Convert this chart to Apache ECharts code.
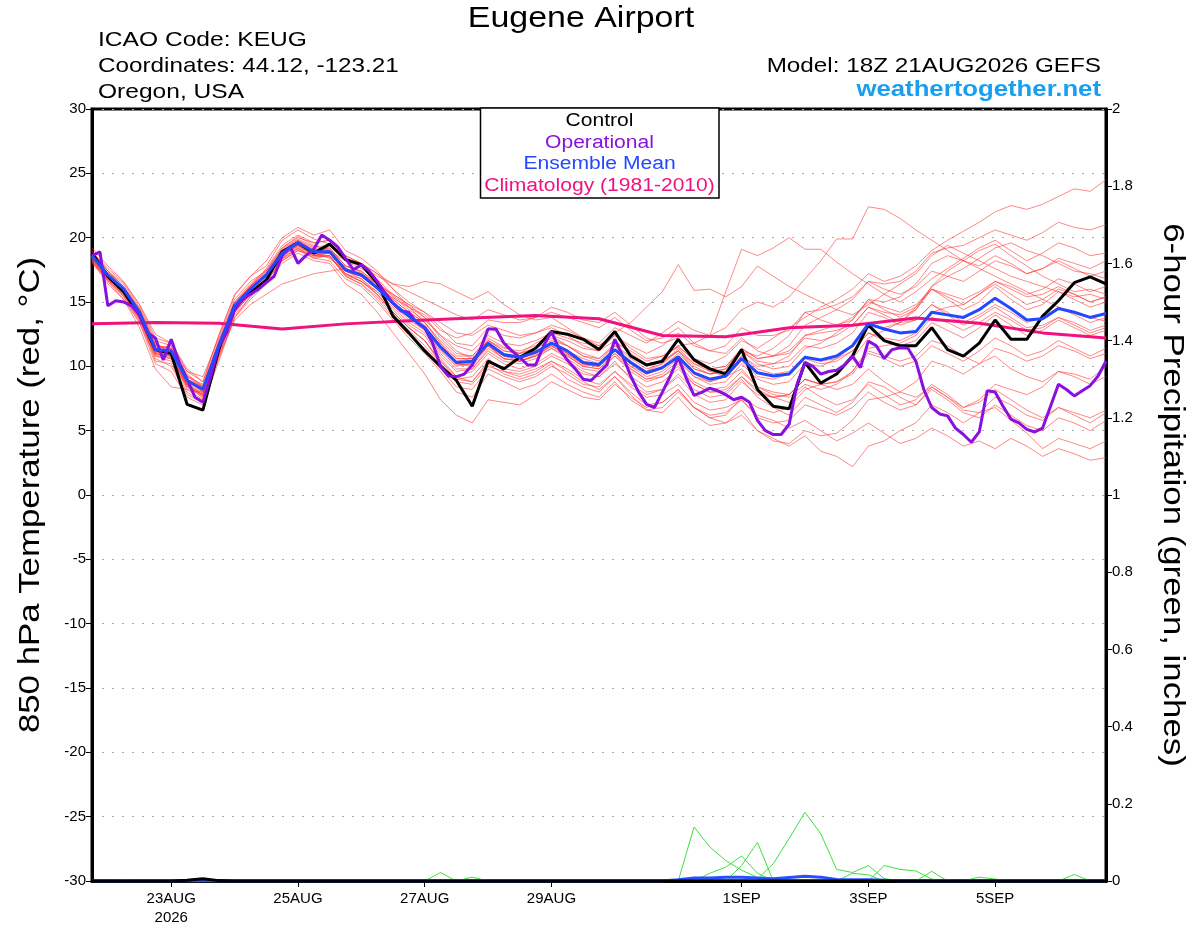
<!DOCTYPE html>
<html>
<head>
<meta charset="utf-8">
<script src="https://cdn.jsdelivr.net/npm/echarts@6.0.0/dist/echarts.min.js"></script>
<style>html,body{margin:0;padding:0;background:#fff;}#c{width:1200px;height:927px;}</style>
</head>
<body>
<div id="c"></div>
<script>
// ---- x axis (6-hourly steps from 18Z 21AUG2026) ----
const tickSteps = [5, 13, 21, 29, 41, 49, 57];
const tickLabels = ['23AUG\n2026', '25AUG', '27AUG', '29AUG', '1SEP', '3SEP', '5SEP'];

// ---- 850 hPa temperature (°C), 6-hourly ----
const control = [18.8,17.0,15.8,14.0,11.3,11.0,7.05,6.6,
11.3,14.7,15.7,16.7,18.9,19.6,18.8,19.5,
18.3,17.9,16.5,13.9,12.6,11.2,10.0,8.9,
6.9,10.4,9.8,10.7,11.4,12.7,12.5,12.1,
11.3,12.7,10.8,10.1,10.4,12.1,10.5,9.8,
9.4,11.3,8.2,6.9,6.7,10.3,8.7,9.4,
10.8,13.2,12.0,11.6,11.6,13.0,11.3,10.8,
11.8,13.6,12.1,12.1,13.9,15.1,16.5,16.95,
16.4];
const ensMean = [18.6,17.1,16.0,14.2,11.3,11.2,8.9,8.2,
11.6,14.7,16.0,17.1,18.8,19.6,18.9,18.9,
17.5,17.1,16.1,14.9,13.9,13.0,11.5,10.3,
10.4,11.8,10.9,10.7,11.1,11.8,11.2,10.3,
10.15,11.3,10.3,9.5,9.9,10.75,9.5,9.0,
9.25,10.6,9.5,9.25,9.4,10.7,10.5,10.8,
11.6,13.3,12.9,12.6,12.7,14.2,14.0,13.8,
14.4,15.3,14.5,13.6,13.7,14.5,14.2,13.8,
14.1];
// operational: 3-hourly
const operational = [18.6,18.9,14.7,15.1,15.0,14.7,14.0,12.6,
12.2,10.5,12.1,10.3,9.0,7.6,7.2,9.25,
11.5,12.6,14.4,15.2,15.6,16.0,16.5,17.0,
18.6,19.3,18.0,18.6,19.1,20.2,19.8,19.3,
18.4,17.5,17.9,17.4,16.6,15.7,14.9,14.3,
14.2,13.4,13.0,11.8,10.0,9.25,9.2,9.4,
10.1,11.3,12.9,12.9,11.8,11.2,10.7,10.1,
10.1,11.6,12.7,11.3,10.5,9.8,9.0,8.9,
9.5,10.1,12.1,10.8,9.25,8.0,7.05,6.8,
8.0,9.25,10.7,9.1,7.75,8.0,8.3,8.1,
7.8,7.4,7.6,7.2,5.8,5.0,4.7,4.7,
5.5,8.6,10.3,10.0,9.4,9.6,9.7,10.1,
10.8,9.9,11.96,11.6,10.6,11.3,11.45,11.4,
10.4,8.2,6.8,6.3,6.15,5.2,4.7,4.1,
4.9,8.1,8.0,6.9,5.9,5.6,5.1,4.9,
5.2,6.9,8.6,8.2,7.7,8.1,8.5,9.25,
10.4];
// climatology: daily
const climatology = [13.3,13.4,13.35,12.9,13.3,13.55,13.75,13.95,13.7,12.4,12.3,13.0,13.2,13.75,13.35,12.6,12.2];

// ---- ensemble members (°C), 6-hourly ----
const m01 = [18.4,17.3,16.2,14.5,11.8,11.0,9.2,8.6, 12.0,15.0,16.4,17.5,19.2,20.1,19.4,19.0, 18.2,17.6,16.8,15.5,14.6,13.8,12.2,11.0, 10.8,12.2,11.5,11.0,11.8,12.4,11.6,11.0, 10.6,11.8,11.2,10.4,10.8,11.5,10.6,10.2, 10.8,12.0,11.4,12.2,13.0,13.8,14.6,15.2, 16.0,17.2,16.6,17.0,17.8,19.0,19.8,20.5, 21.2,22.0,22.5,22.2,22.6,23.2,23.8,23.6, 24.5];
const m02 = [18.9,17.6,16.5,14.8,12.5,11.8,9.8,8.8, 12.4,15.5,17.0,17.8,19.8,20.6,19.9,19.5, 18.6,18.0,17.2,16.0,15.0,14.2,13.0,11.8, 11.6,13.0,12.4,12.2,12.6,13.2,12.8,12.2, 11.8,13.0,12.4,11.8,12.6,13.5,12.8,12.4, 13.0,14.4,15.0,14.6,15.4,16.8,18.2,19.9, 19.9,22.4,22.2,21.5,20.6,19.8,19.0,18.2, 17.6,17.0,16.4,15.8,15.2,14.6,14.2,13.8, 13.5];
const m03 = [18.2,16.6,15.4,13.6,10.8,10.4,8.4,7.8, 11.0,14.2,15.6,16.8,18.4,19.2,18.4,18.6, 17.0,16.4,15.4,14.0,12.8,11.6,10.2,9.0, 9.2,10.6,9.6,9.4,9.8,10.4,9.8,9.0, 8.6,9.6,8.4,7.6,7.8,8.6,7.2,6.6, 6.8,7.4,6.2,5.8,5.2,5.8,5.0,4.2, 4.8,5.6,4.8,4.0,4.4,5.2,4.6,3.8, 4.2,3.6,4.4,3.8,3.0,3.6,3.2,2.7, 2.9];
const m04 = [18.5,16.9,15.6,13.8,11.0,10.6,8.6,7.5, 11.2,14.4,15.8,16.9,18.6,19.4,18.6,18.5, 17.2,16.6,15.8,14.4,13.2,12.4,10.6,9.2, 8.8,10.2,9.4,9.0,9.4,10.2,9.0,8.4, 8.0,9.2,7.8,6.6,6.4,7.6,6.2,5.4, 5.6,6.6,5.0,4.4,3.8,4.6,3.4,3.0, 2.2,3.8,4.2,5.0,5.6,7.0,6.4,5.6, 6.4,7.6,7.0,6.2,5.8,6.8,6.4,6.0, 6.6];
const m05 = [19.0,17.4,16.2,14.4,11.6,11.4,9.4,8.4, 11.8,15.0,16.2,17.6,19.4,20.2,19.6,19.8, 18.4,17.8,16.6,15.4,14.4,13.6,12.4,11.6, 11.2,12.4,11.8,11.6,12.0,12.6,12.2,11.8, 11.6,12.6,13.4,14.6,15.8,17.9,15.9,16.0, 15.4,16.2,17.8,17.0,16.2,15.6,15.0,14.4, 14.0,14.8,15.6,16.4,17.2,18.6,19.4,18.8, 18.2,17.6,17.0,16.6,16.2,15.8,15.4,15.6, 15.2];
const m06 = [18.3,16.8,15.6,13.9,10.4,10.2,8.0,7.2, 10.8,14.0,15.4,16.6,18.2,19.0,18.4,18.2, 16.8,16.2,15.0,13.6,12.2,11.0,9.6,8.0, 7.6,9.4,8.8,8.2,8.6,9.4,8.6,8.0, 7.6,8.8,7.4,6.6,6.8,8.0,6.8,6.0, 6.2,7.6,6.8,6.4,6.8,8.2,8.6,9.4, 10.6,12.2,12.8,13.4,14.6,16.2,17.4,18.2, 19.0,19.5,18.6,17.8,17.0,16.4,15.8,16.0, 15.6];
const m07 = [18.7,17.2,16.0,14.3,11.4,11.6,9.0,8.0, 11.6,14.8,16.2,17.2,19.0,19.8,19.0,19.2, 17.8,17.4,16.4,15.2,14.2,13.4,12.0,10.8, 10.8,12.0,11.2,11.0,11.4,12.0,11.6,10.8, 10.6,11.6,10.8,10.0,10.4,11.2,10.2,9.8, 10.0,11.4,10.6,10.8,11.2,12.4,12.8,13.2, 13.8,15.0,14.6,14.2,14.8,16.0,15.4,14.8, 15.6,16.4,15.6,14.8,15.2,16.0,15.6,15.0, 15.4];
const m08 = [18.5,16.9,15.8,14.0,11.2,10.8,8.6,7.8, 11.4,14.4,15.8,16.8,18.6,19.4,18.6,18.6, 17.2,16.8,15.8,14.6,13.4,12.6,10.8,9.6, 9.8,11.2,10.4,10.2,10.6,11.4,10.6,9.8, 9.6,10.8,9.6,8.8,9.2,10.2,8.8,8.2, 8.4,9.6,8.4,8.0,7.8,9.0,8.6,8.8, 9.4,11.0,10.6,10.0,10.4,11.6,11.0,10.4, 11.2,12.2,11.6,10.8,11.2,12.0,11.4,10.8, 11.4];
const m09 = [18.8,17.4,16.4,14.6,12.0,11.6,9.6,9.2, 12.2,15.2,16.6,17.4,19.0,19.6,18.8,18.4, 17.4,17.0,16.0,14.8,13.8,13.0,11.6,10.6, 10.6,11.6,10.6,10.4,10.8,11.4,10.8,10.0, 9.8,10.8,9.8,9.0,9.4,10.4,9.2,8.6, 8.8,10.2,9.0,8.6,8.8,10.2,10.0,10.6, 11.6,13.2,13.0,13.4,14.4,16.2,17.0,17.6, 18.4,19.2,19.6,19.0,18.6,18.0,17.4,17.2, 16.8];
const m10 = [18.1,16.4,15.2,13.4,10.6,10.0,7.8,7.2, 10.6,13.8,15.4,16.6,18.2,19.0,18.6,18.8, 17.2,16.6,15.6,14.2,13.0,12.0,10.4,9.0, 8.8,10.4,9.8,9.6,10.0,10.8,10.2,9.4, 9.2,10.2,9.2,8.4,8.8,9.8,8.6,8.0, 8.0,9.2,8.2,7.6,7.2,8.4,7.6,7.0, 7.4,8.6,7.8,7.0,7.4,8.6,7.8,6.8, 7.2,8.2,7.4,6.6,6.0,6.8,6.2,5.6, 6.4];
const m11 = [18.0,16.8,15.8,14.0,11.4,10.8,8.4,7.6, 10.8,13.6,14.8,15.6,16.4,16.8,17.2,17.4, 17.6,17.0,16.2,15.6,14.8,13.8,12.4,11.2, 10.6,11.8,11.0,10.8,11.2,11.8,11.2,10.6, 10.2,11.2,10.2,9.4,9.8,10.8,9.4,8.8, 9.2,10.4,9.2,9.0,9.4,10.6,10.2,10.4, 11.2,12.6,12.0,11.6,12.0,13.4,12.8,12.2, 13.0,14.0,13.2,12.4,12.8,13.6,13.0,12.4, 12.8];
const m12 = [19.2,17.8,16.6,14.8,12.2,11.8,9.6,8.8, 12.4,15.6,17.0,18.2,20.0,20.8,20.2,20.6, 19.0,18.4,17.4,16.0,14.6,13.4,11.8,10.2, 10.0,11.6,10.8,10.4,10.8,11.6,11.0,10.2, 10.0,11.2,10.0,9.4,10.0,11.0,9.8,9.4, 9.8,11.2,10.4,10.2,10.4,11.6,11.4,11.8, 12.6,14.2,13.8,13.2,13.6,14.8,14.2,13.4, 14.0,14.8,14.2,13.4,13.8,14.6,14.0,13.4, 13.8];
const m13 = [18.4,16.8,15.4,13.4,10.2,9.6,7.6,7.0, 10.4,13.8,15.2,16.4,18.0,18.8,18.2,18.0, 16.4,15.6,14.2,12.6,11.0,9.4,7.4,6.2, 5.6,7.4,7.2,7.0,7.8,8.8,8.2,7.6, 7.4,8.6,7.6,6.8,7.2,8.2,6.8,6.0, 5.6,6.2,5.0,4.2,4.0,5.0,4.6,4.8, 5.8,7.4,7.6,8.0,8.8,10.4,10.0,9.4, 10.2,11.4,11.0,10.4,10.8,11.6,11.2,10.6, 11.0];
const m14 = [18.6,17.0,15.8,14.2,11.4,11.4,9.0,8.4, 11.8,14.8,16.0,17.0,18.8,19.6,19.0,19.0, 17.6,17.2,16.2,15.0,14.0,13.2,11.6,10.4, 10.6,12.0,11.4,11.2,11.6,12.4,12.0,11.4, 11.2,12.4,11.6,11.0,11.6,12.6,11.6,11.2, 11.6,13.0,12.4,12.4,12.8,14.2,14.4,14.8, 15.4,16.6,16.0,15.6,16.2,17.4,17.0,16.6, 17.4,18.2,17.8,17.2,17.6,18.2,17.6,17.0, 17.4];
const m15 = [18.2,16.6,15.2,13.0,9.8,8.4,8.2,8.0, 11.4,14.6,16.0,17.2,18.8,19.6,18.8,18.8, 17.6,17.2,16.4,15.6,14.8,14.2,13.4,12.6, 12.4,13.2,12.8,12.4,12.6,13.0,12.4,11.6, 11.2,12.0,11.0,10.2,10.4,11.2,10.0,9.4, 9.6,10.8,9.8,9.4,9.6,10.8,10.4,10.6, 11.2,12.6,12.2,12.0,12.6,14.2,14.6,14.8, 15.6,16.6,16.2,15.6,16.0,16.8,16.4,15.8, 16.2];
const m16 = [18.7,17.0,15.6,13.6,10.8,10.6,8.2,7.4, 11.0,14.2,15.6,16.8,18.4,19.2,18.6,18.8, 17.4,16.8,15.6,14.2,13.0,12.0,10.4,9.2, 9.6,11.0,10.2,9.8,10.2,11.0,10.4,9.6, 9.2,10.4,9.0,8.0,8.2,9.2,7.8,7.2, 7.4,8.8,7.8,7.6,7.8,9.0,8.6,8.8, 9.6,11.2,10.8,10.4,10.8,12.0,11.6,10.8, 10.2,10.8,9.8,9.2,8.8,9.6,9.2,8.6, 9.2];
const m17 = [18.9,17.4,16.2,14.4,11.6,11.4,9.2,8.4, 11.8,14.8,16.2,17.4,19.2,20.0,19.6,19.8, 18.6,18.0,17.2,16.4,15.8,15.2,14.6,14.0, 13.6,14.4,14.0,13.6,13.8,14.2,13.8,13.4, 13.0,13.8,12.8,12.0,12.2,13.0,11.8,11.2, 11.0,12.2,11.2,10.8,11.0,12.2,12.0,12.4, 13.2,14.6,14.2,14.0,14.6,16.0,15.6,15.2, 15.8,16.6,16.0,15.4,15.6,16.2,15.6,15.0, 15.4];
const m18 = [18.4,16.9,15.9,14.1,11.2,11.0,8.8,8.0, 11.4,14.6,16.0,17.0,18.6,19.4,18.8,18.8, 17.4,17.0,16.0,14.8,13.8,12.8,11.2,10.0, 10.2,11.6,10.8,10.6,11.0,11.8,11.0,10.2, 10.0,11.0,9.8,9.0,9.2,10.0,8.6,8.0, 8.2,9.2,8.0,7.6,7.8,9.0,8.6,8.2, 8.6,9.8,8.8,8.0,7.6,8.4,7.6,6.6, 6.4,6.8,5.8,4.8,3.6,4.4,4.0,3.6, 4.2];
const m19 = [18.6,17.1,16.0,14.2,11.2,11.2,9.0,8.4, 11.8,14.8,16.2,17.2,19.0,19.8,19.2,19.2, 17.8,17.4,16.4,15.2,14.2,13.4,11.8,10.6, 10.6,12.0,11.2,11.0,11.4,12.2,11.6,10.8, 10.4,11.6,10.6,9.8,10.2,11.4,10.2,9.6, 9.8,11.4,10.6,10.8,11.6,13.2,13.8,14.4, 15.2,16.6,16.4,16.6,17.4,18.8,19.2,19.4, 20.0,20.6,20.2,19.8,20.4,21.2,20.8,20.6, 21.0];
const m20 = [18.3,16.8,15.8,14.0,11.0,10.8,8.6,7.8, 11.2,14.4,15.8,16.8,18.6,19.4,18.8,18.8, 17.4,17.0,16.0,14.8,13.6,12.8,11.0,9.8, 9.8,11.4,10.6,10.4,10.8,11.6,10.8,10.0, 9.8,11.0,10.0,9.2,9.6,10.6,9.2,8.8, 9.2,10.8,10.0,10.2,10.8,12.4,12.6,12.8, 13.2,14.6,14.0,13.4,13.6,14.8,14.0,13.2, 13.8,14.6,13.8,13.0,13.2,13.8,13.2,12.6, 13.0];
const m21 = [18.5,17.0,15.9,14.1,11.1,11.0,8.7,7.9, 11.5,14.6,15.9,17.0,18.7,19.5,18.9,19.0, 17.6,17.2,16.2,15.0,13.9,12.9,11.3,10.1, 10.2,11.6,10.6,10.4,10.9,11.6,10.9,10.1, 10.0,11.2,10.2,9.6,10.6,11.6,11.8,12.4, 15.8,19.1,18.6,19.2,20.0,19.1,19.1,18.1, 17.2,16.4,15.6,15.0,15.8,16.8,17.6,18.4, 19.2,19.8,19.0,18.2,18.8,19.6,19.2,18.6, 18.8];
const m22 = [18.8,17.2,16.0,14.3,11.7,11.3,9.3,8.5, 11.9,14.9,16.3,17.3,19.1,19.9,19.3,19.4, 18.2,17.8,17.0,16.4,16.2,16.6,16.4,15.8, 15.2,15.8,14.8,14.0,13.6,13.8,13.0,12.2, 11.6,12.4,11.4,10.6,10.8,11.6,10.4,9.8, 10.0,11.2,10.2,9.8,10.0,11.4,11.8,12.6, 13.6,15.2,15.0,15.4,16.4,18.0,18.6,18.2, 17.8,18.6,18.0,17.2,17.6,18.4,18.0,17.6, 18.2];
const m23 = [18.3,16.7,15.5,13.7,10.9,10.7,8.5,7.7, 11.1,14.3,15.7,16.7,18.5,19.3,18.7,18.6, 17.0,16.4,15.2,13.8,12.4,11.4,9.8,8.4, 8.2,9.8,9.2,8.8,9.2,10.0,9.4,8.6, 8.4,9.6,8.6,7.8,8.2,9.4,8.2,7.6, 7.8,9.0,7.6,6.8,6.2,7.6,7.0,6.4, 7.2,8.8,8.4,7.6,7.0,8.2,7.4,6.4, 6.0,7.0,6.2,5.4,5.0,6.0,5.6,5.0, 5.8];
const m24 = [18.6,17.1,15.9,14.2,11.3,11.1,8.9,8.1, 11.7,14.7,16.1,17.1,18.9,19.7,19.1,19.1, 17.8,17.3,16.3,15.3,14.6,14.0,12.8,12.2, 12.6,13.6,13.4,13.4,13.8,14.6,14.2,13.6, 13.4,14.2,13.2,12.2,11.8,12.2,10.6,9.6, 9.2,9.8,8.4,7.8,7.6,8.6,8.2,8.6, 9.6,11.4,11.6,11.8,12.4,13.8,13.4,12.8, 13.4,14.2,13.6,12.8,13.0,13.8,13.4,12.8, 13.2];
const m25 = [18.7,17.1,15.7,13.9,11.0,11.3,9.0,8.3, 11.6,14.6,16.0,17.0,18.7,19.5,18.9,18.9, 17.5,17.1,16.0,14.9,13.8,12.9,11.4,10.2, 10.2,11.8,10.8,10.6,11.0,11.8,11.0,10.2, 10.0,11.2,10.4,9.6,10.2,11.2,9.8,9.4, 9.6,11.2,10.8,11.4,12.4,14.2,13.6,13.2, 13.6,15.2,14.4,13.8,14.4,16.0,15.2,14.4, 15.0,16.2,15.2,14.4,14.8,15.8,15.2,14.6, 15.0];
const m26 = [18.2,16.7,15.6,13.8,11.0,10.8,8.5,7.7, 11.0,14.2,15.6,16.6,18.3,19.1,18.5,18.6, 17.1,16.6,15.6,14.2,13.0,12.0,10.2,8.8, 8.6,10.0,9.6,9.2,9.6,10.4,9.6,8.8, 8.2,9.2,8.0,7.0,7.2,8.2,6.8,6.2, 6.4,7.4,6.0,5.6,5.8,7.0,6.6,6.2, 6.8,8.0,7.2,6.6,7.0,8.4,7.6,6.8, 7.4,8.6,8.2,7.8,8.4,9.6,9.4,9.0, 10.0];
const members = [m01,m02,m03,m04,m05,m06,m07,m08,m09,m10,m11,m12,m13,m14,m15,m16,m17,m18,m19,m20,m21,m22,m23,m24,m25,m26];

// ---- 6-hour precipitation (inches), 6-hourly ----
const pcpA = [0,0,0,0,0,0,0,0,0,0, 0,0,0,0,0,0,0,0,0,0, 0,0,0,0,0,0,0,0,0,0, 0,0,0,0,0,0,0,0,0.14,0.088, 0.053,0.028,0.009,0,0,0,0,0,0,0, 0,0,0,0,0,0,0,0,0,0, 0,0,0,0,0];
const pcpB = [0,0,0,0,0,0,0,0,0,0, 0,0,0,0,0,0,0,0,0,0, 0,0,0,0,0,0,0,0,0,0, 0,0,0,0,0,0,0,0,0,0.02, 0.036,0.065,0.02,0,0,0,0,0,0,0, 0,0,0,0,0,0,0,0,0,0, 0,0,0,0,0];
const pcpC = [0,0,0,0,0,0,0,0,0,0, 0,0,0,0,0,0,0,0,0,0, 0,0,0,0,0,0,0,0,0,0, 0,0,0,0,0,0,0,0,0,0, 0,0.04,0.10,0,0,0,0,0,0,0, 0,0,0,0,0,0,0,0,0,0, 0,0,0,0,0];
const pcpD = [0,0,0,0,0,0,0,0,0,0, 0,0,0,0,0,0,0,0,0,0, 0,0,0,0,0,0,0,0,0,0, 0,0,0,0,0,0,0,0,0,0, 0,0,0.005,0.045,0.11,0.178,0.122,0.03,0.022,0.04, 0.006,0,0,0,0,0,0,0,0,0, 0,0,0,0,0];
const pcpE = [0,0,0,0,0,0,0,0,0,0, 0,0,0,0,0,0,0,0,0,0, 0,0,0,0,0,0,0,0,0,0, 0,0,0,0,0,0,0,0,0,0, 0,0,0,0,0,0,0,0,0.02,0.016, 0,0,0,0,0,0,0,0,0,0, 0,0,0,0,0];
const pcpF = [0,0,0,0,0,0,0,0,0,0, 0,0,0,0,0,0,0,0,0,0, 0,0,0,0,0,0,0,0,0,0, 0,0,0,0,0,0,0,0,0,0, 0,0,0,0,0,0,0,0,0,0, 0.04,0.03,0.026,0.005,0,0,0,0,0,0, 0,0,0,0,0];
const pcpG = [0,0,0,0,0,0,0,0,0,0, 0,0,0,0,0,0,0,0,0,0, 0,0,0,0,0,0,0,0,0,0, 0,0,0,0,0,0,0,0,0,0, 0,0,0,0,0,0,0,0,0,0, 0,0,0,0.025,0,0,0,0,0,0, 0,0,0,0,0];
const pcpH = [0,0,0,0,0,0,0,0,0,0, 0,0,0,0,0,0,0,0,0,0, 0,0,0,0,0,0,0,0,0,0, 0,0,0,0,0,0,0,0,0,0, 0,0,0,0,0,0,0,0,0,0, 0,0,0,0,0,0,0.01,0.005,0,0, 0,0,0.017,0,0];
const pcpI = [0,0,0.003,0,0,0,0,0,0,0, 0,0,0,0,0,0,0,0,0,0, 0,0,0.022,0,0.01,0,0,0,0,0, 0,0,0,0,0,0,0,0,0,0, 0,0,0,0,0,0,0,0,0,0, 0,0,0,0,0,0,0,0,0,0, 0,0,0,0,0];
const pcpMembers = [pcpA,pcpB,pcpC,pcpD,pcpE,pcpF,pcpG,pcpH,pcpI];
const pcpMean = [0,0,0,0,0,0,0,0,0,0, 0,0,0,0,0,0,0,0,0,0, 0,0,0,0,0,0,0,0,0,0, 0,0,0,0,0,0,0,0.003,0.008,0.008, 0.01,0.01,0.008,0.006,0.009,0.012,0.01,0.004,0.003,0.003, 0.002,0,0,0,0,0,0,0,0,0, 0,0,0,0,0];
const pcpControl = [0,0,0,0,0,0,0.002,0.006,0.001,0, 0,0,0,0,0,0,0,0,0,0, 0,0,0,0,0,0,0,0,0,0, 0,0,0,0,0,0,0,0,0,0, 0,0,0,0,0,0,0,0,0,0, 0,0,0,0,0,0,0,0,0,0, 0,0,0,0,0];

const FONT = "'Liberation Sans', Arial, sans-serif";
const WIDE = 1.17; // horizontal stretch of the reference lettering
const pair6 = arr => arr.map((v, i) => [i, v]);
const pair3 = arr => arr.map((v, k) => [k / 2, v]);
const pairDay = arr => arr.map((v, d) => [d * 4, v]);

function txt(text, x, y, size, color, align, extra) {
  return Object.assign({
    type: 'text', x: x, y: y, scaleX: WIDE, z: 11,
    style: {text: text, fontSize: size, fontFamily: FONT, fill: color, align: align, verticalAlign: 'middle'}
  }, extra || {});
}

const chart = echarts.init(document.getElementById('c'), null, {renderer: 'canvas'});
const series = [];
members.forEach((m, i) => series.push({
  type: 'line', name: 'mem' + (i + 1), data: pair6(m), yAxisIndex: 0, symbol: 'none', silent: true,
  lineStyle: {color: 'rgba(255,55,55,0.6)', width: 1}, z: 2
}));
pcpMembers.forEach((p, i) => series.push({
  type: 'line', name: 'pcp' + i, data: pair6(p), yAxisIndex: 1, symbol: 'none', silent: true,
  lineStyle: {color: '#3ee03e', width: 1}, z: 2
}));
series.push({type: 'line', data: pair6(pcpMean), yAxisIndex: 1, symbol: 'none', lineStyle: {color: '#2850ff', width: 3}, z: 3});
series.push({type: 'line', data: pair6(pcpControl), yAxisIndex: 1, symbol: 'none', lineStyle: {color: '#000', width: 3}, z: 3});
series.push({type: 'line', name: 'Climatology', data: pairDay(climatology), yAxisIndex: 0, symbol: 'none', lineStyle: {color: '#f0127e', width: 3}, z: 4});
series.push({type: 'line', name: 'Control', data: pair6(control), yAxisIndex: 0, symbol: 'none', lineStyle: {color: '#000', width: 3}, z: 5});
series.push({type: 'line', name: 'Operational', data: pair3(operational), yAxisIndex: 0, symbol: 'none', lineStyle: {color: '#8a10e0', width: 3}, z: 6});
series.push({type: 'line', name: 'Ensemble Mean', data: pair6(ensMean), yAxisIndex: 0, symbol: 'none', lineStyle: {color: '#2448ff', width: 3}, z: 7});

const option = {
  animation: false,
  backgroundColor: '#fff',
  textStyle: {fontFamily: FONT},
  grid: {left: 92, right: 94, top: 109, bottom: 44, show: true, borderColor: '#000', borderWidth: 3, backgroundColor: 'transparent'},
  xAxis: {
    type: 'value', min: 0, max: 64,
    axisLine: {show: true, onZero: false, lineStyle: {color: '#000', width: 3}},
    axisTick: {show: true, customValues: tickSteps, length: 6, lineStyle: {color: '#000', width: 1}},
    axisLabel: {customValues: tickSteps, color: '#000', fontSize: 15, fontFamily: FONT, margin: 8, lineHeight: 19,
      formatter: v => tickLabels[tickSteps.indexOf(Math.round(v))] || ''},
    splitLine: {show: false}
  },
  yAxis: [{
    type: 'value', min: -30, max: 30, interval: 5, position: 'left',
    axisLine: {show: true, onZero: false, lineStyle: {color: '#000', width: 3}},
    axisTick: {show: true, length: 6, lineStyle: {color: '#000', width: 1}},
    axisLabel: {color: '#000', fontSize: 15, fontFamily: FONT, margin: 6},
    splitLine: {show: true, lineStyle: {color: '#aaa', width: 1, type: [2, 8]}}
  }, {
    type: 'value', min: 0, max: 2, interval: 0.2, position: 'right',
    axisLine: {show: true, onZero: false, lineStyle: {color: '#000', width: 3}},
    axisTick: {show: true, length: 6, lineStyle: {color: '#000', width: 1}},
    axisLabel: {color: '#000', fontSize: 15, fontFamily: FONT, margin: 6,
      formatter: v => String(Math.round(v * 10) / 10)},
    splitLine: {show: false}
  }],
  graphic: [
    txt('Eugene Airport', 581, 19, 29, '#000', 'center'),
    txt('ICAO Code: KEUG', 98, 40, 21, '#000', 'left'),
    txt('Coordinates: 44.12, -123.21', 98, 66, 21, '#000', 'left', {scaleX: 1.155}),
    txt('Oregon, USA', 98, 92.5, 21, '#000', 'left'),
    txt('Model: 18Z 21AUG2026 GEFS', 1101, 66, 21, '#000', 'right', {scaleX: 1.155}),
    txt('weathertogether.net', 1101, 90, 22, '#1a9ff0', 'right', {style: {text: 'weathertogether.net', fontSize: 22, fontWeight: 'bold', fontFamily: FONT, fill: '#1a9ff0', align: 'right', verticalAlign: 'middle'}}),
    txt('850 hPa Temperature (red, °C)', 31, 495, 29, '#000', 'center', {rotation: Math.PI / 2, scaleX: 1.2}),
    txt('6-hour Precipitation (green, inches)', 1172, 495, 29, '#000', 'center', {rotation: -Math.PI / 2, scaleX: 1.2}),
    {type: 'rect', z: 10, shape: {x: 480.5, y: 108, width: 238.5, height: 90}, style: {fill: '#fff', stroke: '#000', lineWidth: 1.5}},
    txt('Control', 599.5, 121.5, 18, '#000', 'center'),
    txt('Operational', 599.5, 143, 18, '#8a10e0', 'center'),
    txt('Ensemble Mean', 599.5, 164.5, 18, '#2448ff', 'center'),
    txt('Climatology (1981-2010)', 599.5, 186.5, 18, '#f0127e', 'center')
  ],
  series: series
};
chart.setOption(option);
</script>
</body>
</html>
